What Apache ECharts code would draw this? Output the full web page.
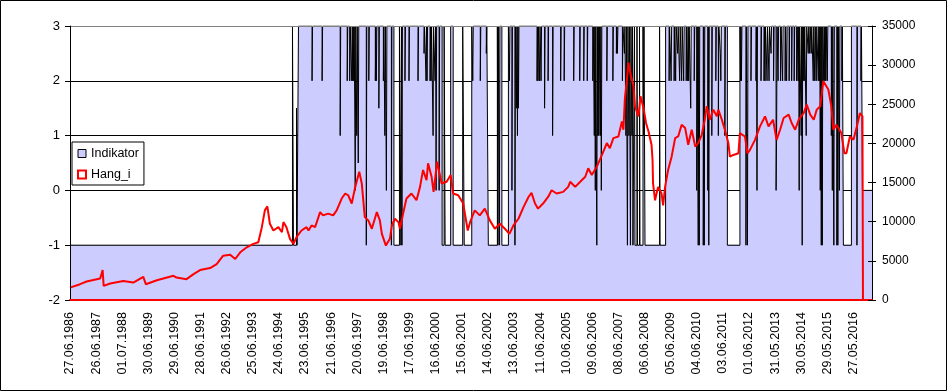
<!DOCTYPE html>
<html><head><meta charset="utf-8">
<script src="https://cdn.jsdelivr.net/npm/echarts@6/dist/echarts.min.js"></script>
<style>html,body{margin:0;padding:0;background:#fff}#c{width:948px;height:392px}</style>
</head><body><div id="c"></div>
<script>
// x axis: week number since 27.06.1986; one tick label every 52 weeks
const tickLabels = ['27.06.1986','26.06.1987','01.07.1988','30.06.1989','29.06.1990','28.06.1991','26.06.1992','25.06.1993','24.06.1994','23.06.1995','21.06.1996','20.06.1997','19.06.1998','17.06.1999','16.06.2000','15.06.2001','14.06.2002','13.06.2003','11.06.2004','10.06.2005','09.06.2006','08.06.2007','06.06.2008','05.06.2009','04.06.2010','03.06.2011','01.06.2012','31.05.2013','30.05.2014','29.05.2015','27.05.2016'];
const lastWeek = 1597;

// Hang_i (right axis): [week, value]
const hangPoints = [[0,1580],[20,2020],[33,2360],[60,2740],[65,3820],[67,1800],[80,2100],[106,2440],[126,2230],[146,2960],[151,2020],[173,2530],[206,3090],[212,2870],[232,2660],[246,3300],[259,3820],[279,4080],[292,4590],[305,5660],[319,5790],[329,5240],[339,6090],[352,6730],[365,7170],[375,7380],[382,9300],[388,11450],[393,11970],[398,9740],[405,8880],[415,9300],[422,8660],[425,9950],[431,9300],[438,7810],[445,7170],[451,8020],[461,8880],[471,9300],[475,8880],[481,9520],[488,9300],[498,11230],[504,10810],[514,11030],[524,10810],[531,11450],[541,12960],[548,13600],[554,13380],[561,12320],[568,14450],[576,16380],[581,14890],[587,10590],[594,10170],[601,9100],[611,11230],[617,10170],[621,8450],[629,6950],[637,7810],[641,9520],[647,10380],[654,9950],[657,9100],[664,11230],[670,12960],[680,13600],[690,12740],[697,14450],[703,16600],[710,15310],[713,17460],[720,15740],[724,13810],[731,17670],[740,14890],[750,15100],[758,15960],[763,13600],[773,13380],[783,12320],[792,8880],[797,10000],[806,11450],[816,10810],[826,11670],[836,10170],[846,9100],[856,9740],[866,9100],[875,8450],[883,9520],[893,10380],[903,11870],[913,13160],[919,13680],[926,12320],[932,11670],[942,12320],[952,13160],[959,14020],[969,13600],[982,13810],[992,14450],[996,15100],[1006,14450],[1016,15100],[1026,15740],[1032,16820],[1039,15960],[1049,17030],[1055,17890],[1062,18960],[1069,20040],[1075,19390],[1082,20680],[1092,20890],[1099,22820],[1102,21750],[1105,25830],[1109,28180],[1112,30330],[1117,28610],[1122,27320],[1125,24750],[1132,23460],[1136,26040],[1142,24540],[1147,22610],[1152,21530],[1158,19820],[1160,17890],[1161,14890],[1165,12740],[1171,14450],[1178,13600],[1181,12100],[1185,14450],[1191,16600],[1198,18310],[1205,20680],[1211,20890],[1218,22390],[1225,21960],[1231,19820],[1238,21750],[1245,19600],[1251,20040],[1258,21100],[1264,23030],[1268,24750],[1274,23030],[1281,24320],[1288,23460],[1291,24320],[1298,23030],[1304,21750],[1311,20040],[1314,18310],[1321,18530],[1331,18740],[1334,21320],[1344,20890],[1349,18740],[1354,19170],[1364,20460],[1374,22180],[1384,23460],[1391,22180],[1400,23030],[1407,20460],[1414,21750],[1421,23250],[1431,23680],[1437,22610],[1444,21750],[1451,23030],[1461,23890],[1467,24960],[1474,23680],[1481,23030],[1487,24320],[1494,24750],[1500,27960],[1503,28180],[1510,26900],[1516,24750],[1520,21750],[1526,22400],[1536,21320],[1542,18740],[1546,18740],[1553,20890],[1560,20460],[1567,22180],[1573,23890],[1578,23460],[1579,0],[1597,0]];

// Indikator (left axis): [week from which the value holds, value]
const indicatorSteps = [
  [0,-1],[443,3],[445,-1],[451,1.5],[452,-1],[455,3],
  [482,2],[483,3],[502,2],[503,3],[538,1],[539,3],[552,2],[553,3],[557,2],[558,3],
  [561,2],[562,3],[563,2],[564,3],[565,2],[566,3],[568,0],[569,3],[571,1],[572,3],[574,0.5],[575,3],
  [590,-1],[591,3],[595,2],[596,3],[608,2],[609,3],[610,2],[611,3],[615,1.5],[616,3],
  [624,2],[625,3],[627,1],[628,3],[630,0],[631,3],[640,-1],[641,3],[645,-1],[656,3],
  [659,-1],[660,3],[661,-1],[662,3],[667,2],[668,3],[675,2],[676,3],[693,2],[694,3],
  [705,2.5],[706,3],[709,2],[710,3],[711,2],[712,3],[717,2],[718,3],[719,2],[720,3],
  [723,1],[724,3],[727,2],[728,3],[729,0],[730,3],[735,0],[736,3],
  [741,-1],[745,3],[747,-1],[758,3],[763,-1],[782,3],[785,-1],[800,3],
  [802,2],[803,3],[817,2],[818,3],[829,2.5],[830,3],[833,-1],[851,3],
  [852,-1],[853,3],[855,-1],[856,3],[860,-1],[873,3],[875,2],[876,3],[880,0],[881,3],
  [886,-1],[887,3],[889,1.5],[890,3],[891,1],[892,3],[893,1.5],[894,3],
  [930,2],[931,3],[932,2],[933,3],[935,2],[936,3],[938,2],[939,3],[945,1.5],[946,3],
  [952,2],[953,3],[961,1],[962,3],[977,2],[978,3],[984,2],[985,3],[1003,2],[1004,3],
  [1015,2],[1016,3],[1023,2],[1024,3],[1030,2],[1031,3],[1041,2],[1042,3],
  [1044,1],[1045,3],[1046,0],[1047,3],[1049,-1],[1050,3],[1051,1],[1052,3],[1053,1],[1054,3],
  [1056,1],[1057,3],[1058,0],[1059,3],[1069,2],[1070,3],[1081,2],[1082,3],
  [1088,2.5],[1089,3],[1090,2.5],[1091,3],[1100,2],[1101,3],[1104,2.5],[1105,3],
  [1107,1],[1108,3],[1110,-1],[1111,3],[1113,1],[1114,3],[1116,-1],[1117,3],[1119,1],[1120,3],
  [1121,-1],[1124,3],[1125,-1],[1129,3],[1130,-1],[1134,3],[1135,-1],[1141,3],[1142,1],[1143,3],
  [1145,-1],[1174,3],[1175,-1],[1186,3],
  [1193,2],[1194,3],[1197,2],[1198,3],[1203,2],[1204,3],[1206,2],[1207,3],[1210,2.5],[1211,3],
  [1214,2],[1215,3],[1218,2],[1219,3],[1222,2],[1223,3],
  [1227,2],[1228,3],[1230,2],[1231,3],[1232,2],[1233,3],[1236,1.5],[1237,3],[1243,2],[1244,3],
  [1248,0],[1249,3],[1251,-1],[1252,3],[1253,-1],[1254,3],[1261,-1],[1262,3],[1263,-1],[1264,3],
  [1270,0],[1271,3],[1272,-1],[1273,3],[1278,1],[1279,3],[1286,2],[1287,3],[1291,1],[1292,3],
  [1295,2.5],[1296,2],[1297,3],[1304,1],[1305,3],[1309,-1],[1334,3],
  [1335,2],[1336,3],[1337,2],[1338,3],[1346,-1],[1347,3],[1349,-1],[1350,3],[1356,2],[1357,3],
  [1366,2],[1367,3],[1368,0],[1369,3],[1376,2],[1377,3],[1382,2],[1383,3],[1384,2],[1385,3],
  [1388,2],[1389,3],[1392,2],[1393,3],
  [1396,2.5],[1397,3],[1401,2],[1402,3],[1406,0],[1407,1],[1408,3],[1410,2],[1411,3],[1415,2],[1416,3],
  [1419,2],[1420,3],[1424,2],[1425,3],[1427,2],[1428,3],[1432,2],[1433,3],
  [1437,2],[1438,3],[1442,2],[1443,3],[1447,2],[1448,3],[1450,2],[1451,3],[1452,0],[1453,3],
  [1456,1],[1457,3],[1458,-1],[1459,3],[1460,2],[1461,3],[1462,2],[1463,3],[1466,1],[1467,3],
  [1470,2.5],[1471,3],[1473,2.5],[1474,3],[1476,2.5],[1477,3],
  [1480,2],[1481,3],[1483,2],[1484,3],[1486,2],[1487,3],[1490,2],[1491,3],[1492,2],[1493,3],
  [1494,0],[1495,3],[1496,-1],[1497,3],[1498,-1],[1499,3],[1501,2],[1502,3],[1503,2],[1504,3],
  [1505,2],[1506,3],[1508,2],[1509,3],
  [1516,1],[1517,3],[1518,0],[1519,3],[1521,-1],[1522,3],[1527,-1],[1528,3],[1529,-1],[1530,3],
  [1532,0],[1533,3],[1537,2],[1538,3],[1540,-1],[1556,3],[1567,-1],[1568,3],[1575,2],[1576,3],
  [1578,0]
];

// vertices of the stepped outline: each value holds until the next change week
const indicatorLine = [];
indicatorSteps.forEach(([w, v], i) => {
  const end = i + 1 < indicatorSteps.length ? indicatorSteps[i + 1][0] : lastWeek;
  indicatorLine.push([w, v], [end, v]);
});

const FONT = '"Liberation Sans", Arial, sans-serif';
const leftScale = {type: 'value', min: -2, max: 3, interval: 1, position: 'left'};
const rightScale = {type: 'value', min: 0, max: 35000, interval: 5000, position: 'right'};

const chart = echarts.init(document.getElementById('c'));
chart.setOption({
  animation: false,
  backgroundColor: '#fff',
  graphic: [{type: 'rect', shape: {x: 0.5, y: 0.5, width: 946, height: 390}, style: {fill: 'none', stroke: '#000', lineWidth: 1}, z: 100}],
  grid: {left: 70, right: 76, top: 26, bottom: 92, show: false},
  legend: {
    orient: 'vertical', left: 72, top: 142, padding: [4, 5, 3, 5], itemGap: 6, itemWidth: 8, itemHeight: 8,
    backgroundColor: '#fff', borderColor: '#000', borderWidth: 1, selectedMode: false, z: 20,
    textStyle: {fontFamily: FONT, fontSize: 12.5, color: '#000', lineHeight: 15},
    data: [
      {name: 'Indikator', icon: 'rect', itemStyle: {color: '#CCCCFF', borderColor: '#000', borderWidth: 1}},
      {name: 'Hang_i', icon: 'rect', itemStyle: {color: '#fff', borderColor: '#FF0000', borderWidth: 2}}
    ]
  },
  xAxis: {
    type: 'value', min: 0, max: lastWeek, interval: 52, z: 11,
    axisLine: {onZero: false, lineStyle: {color: '#FF0000', width: 2}},
    axisTick: {show: false}, splitLine: {show: false},
    axisLabel: {rotate: 90, margin: 12, color: '#000', fontFamily: FONT, fontSize: 12.5,
      formatter: v => (v % 52 === 0 ? (tickLabels[v / 52] || '') : '')}
  },
  yAxis: [
    // gridlines (under the series)
    Object.assign({}, leftScale, {z: 0, axisLine: {show: false, onZero: false}, axisTick: {show: false},
      axisLabel: {show: false}, splitLine: {show: true, lineStyle: {color: '#000', width: 1}}}),
    Object.assign({}, rightScale, {z: 11,
      axisLine: {show: true, onZero: false, lineStyle: {color: '#000'}},
      axisTick: {show: true, length: 4, lineStyle: {color: '#000'}},
      axisLabel: {color: '#000', fontFamily: FONT, fontSize: 12, margin: 10, formatter: v => String(v)},
      splitLine: {show: false}}),
    Object.assign({}, rightScale, {z: 11, axisLine: {show: false, onZero: false},
      axisTick: {show: true, inside: true, length: 4, lineStyle: {color: '#000'}},
      axisLabel: {show: false}, splitLine: {show: false}}),
    // left axis line, ticks and labels (over the series)
    Object.assign({}, leftScale, {z: 11,
      axisLine: {show: true, onZero: false, lineStyle: {color: '#000'}},
      axisTick: {show: true, length: 5, lineStyle: {color: '#000'}},
      axisLabel: {color: '#000', fontFamily: FONT, fontSize: 13, margin: 10},
      splitLine: {show: false}})
  ],
  series: [
    {name: 'Indikator', type: 'line', yAxisIndex: 0, data: indicatorLine, symbol: 'none',
      lineStyle: {color: '#000', width: 1}, itemStyle: {color: '#CCCCFF'},
      areaStyle: {color: '#CCCCFF', opacity: 1, origin: 'start'}, z: 2},
    {name: 'Hang_i', type: 'line', yAxisIndex: 1, data: hangPoints, symbol: 'none',
      lineStyle: {color: '#FF0000', width: 2}, itemStyle: {color: '#FF0000'}, z: 3,
      markLine: {silent: true, symbol: 'none', label: {show: false},
        lineStyle: {color: '#808080', type: 'solid', width: 1}, data: [{yAxis: 35000}]}}
  ]
});
</script></body></html>
